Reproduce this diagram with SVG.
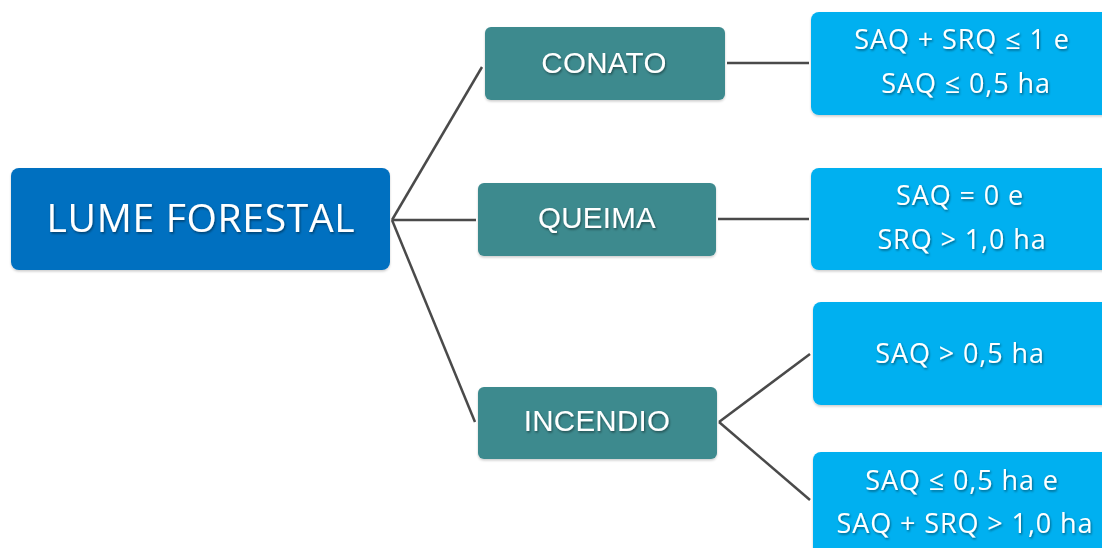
<svg xmlns="http://www.w3.org/2000/svg" width="1102" height="548" viewBox="0 0 1102 548">
<defs>
<filter id="ts" x="-10%" y="-30%" width="120%" height="160%">
<feDropShadow dx="1" dy="1.5" stdDeviation="0.8" flood-color="#000" flood-opacity="0.45"/>
</filter>
<filter id="bs" x="-5%" y="-10%" width="110%" height="125%">
<feDropShadow dx="0" dy="1.5" stdDeviation="1.2" flood-color="#000" flood-opacity="0.2"/>
</filter>
</defs>
<style>
.root{fill:#0070C0}
.mid{fill:#3C8A8E}
.leaf{fill:#00B0F0}
.t{fill:#fff;text-anchor:middle;filter:url(#ts)}
.tc{font-family:"Open Sans","Noto Sans",sans-serif;letter-spacing:0.7px}
.ta{font-family:"Liberation Sans",Arial,sans-serif;font-size:29.5px;letter-spacing:0.3px}
.tl{font-family:"Open Sans","Noto Sans",sans-serif;font-size:27px;letter-spacing:0.9px}
.c{stroke:#4a4a4a;stroke-width:2.5;fill:none}
</style>
<rect width="1102" height="548" fill="#fff"/>
<g id="connectors">
<line class="c" x1="392" y1="220" x2="482" y2="67"/>
<line class="c" x1="392" y1="220" x2="476" y2="220"/>
<line class="c" x1="392" y1="220" x2="475" y2="422"/>
<line class="c" x1="727" y1="63" x2="809" y2="63"/>
<line class="c" x1="718" y1="219" x2="809" y2="219"/>
<line class="c" x1="719" y1="422" x2="810" y2="354"/>
<line class="c" x1="719" y1="422" x2="810" y2="500"/>
</g>
<g id="lume">
<rect class="root" filter="url(#bs)" x="11" y="168" width="379" height="102" rx="8"/>
<text class="t tc" x="201" y="232" font-size="39">LUME FORESTAL</text>
</g>
<g id="conato">
<rect class="mid" filter="url(#bs)" x="485" y="27" width="240" height="73" rx="6"/>
<text class="t ta" x="604" y="73">CONATO</text>
</g>
<g id="queima">
<rect class="mid" filter="url(#bs)" x="478" y="183" width="238" height="73" rx="6"/>
<text class="t ta" x="597" y="228">QUEIMA</text>
</g>
<g id="incendio">
<rect class="mid" filter="url(#bs)" x="478" y="387" width="239" height="72" rx="6"/>
<text class="t ta" x="597" y="431">INCENDIO</text>
</g>
<g id="c1">
<rect class="leaf" filter="url(#bs)" x="811" y="12" width="300" height="103" rx="8"/>
<text class="t tl" x="962" y="49">SAQ + SRQ ≤ 1 e</text>
<text class="t tl" x="966" y="93">SAQ ≤ 0,5 ha</text>
</g>
<g id="c2">
<rect class="leaf" filter="url(#bs)" x="811" y="168" width="300" height="102" rx="8"/>
<text class="t tl" x="960" y="205">SAQ = 0 e</text>
<text class="t tl" x="962" y="249">SRQ &gt; 1,0 ha</text>
</g>
<g id="c3">
<rect class="leaf" filter="url(#bs)" x="813" y="302" width="300" height="103" rx="8"/>
<text class="t tl" x="960" y="363">SAQ &gt; 0,5 ha</text>
</g>
<g id="c4">
<rect class="leaf" filter="url(#bs)" x="813" y="452" width="300" height="110" rx="8"/>
<text class="t tl" x="962" y="490">SAQ ≤ 0,5 ha e</text>
<text class="t tl" x="965" y="533">SAQ + SRQ &gt; 1,0 ha</text>
</g>
</svg>
